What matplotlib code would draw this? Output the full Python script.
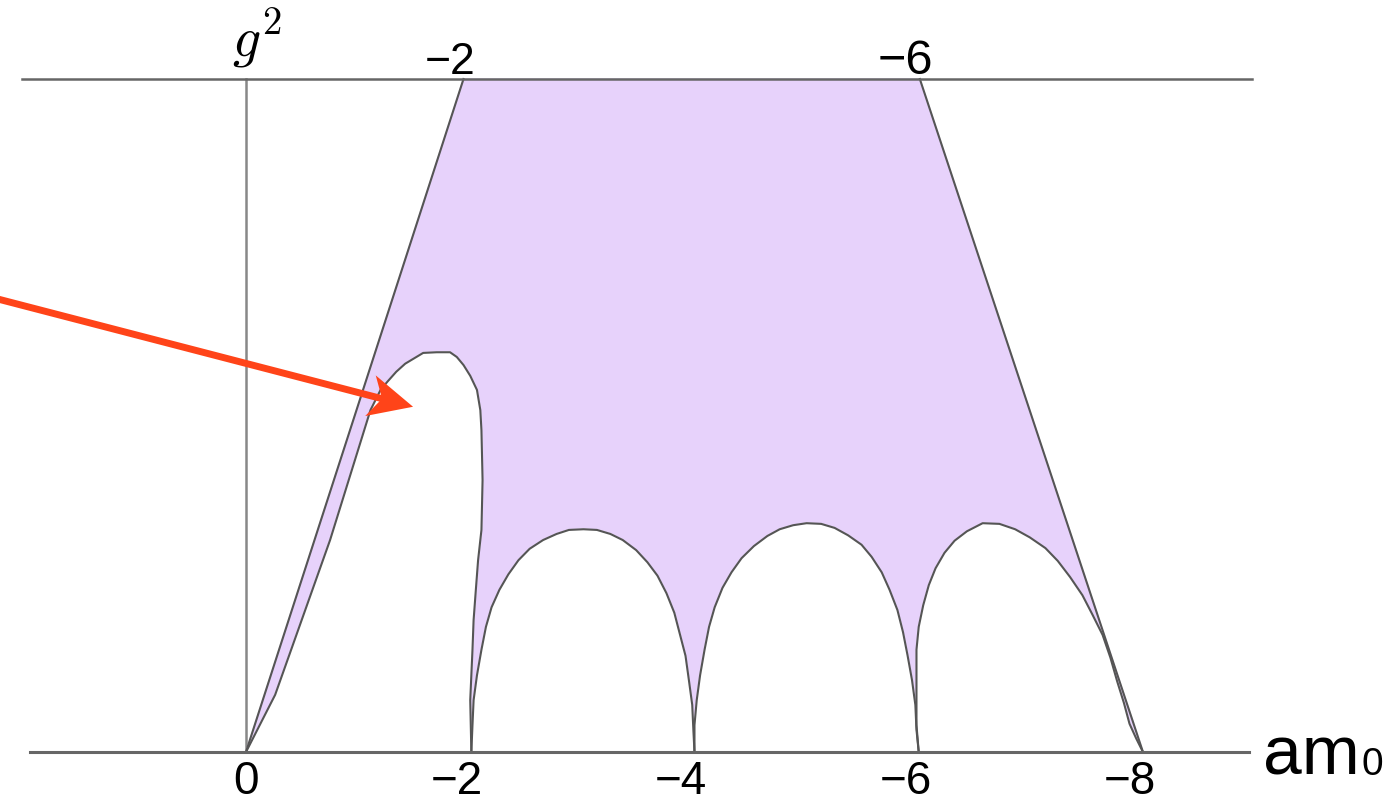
import numpy as np
import matplotlib.pyplot as plt
from matplotlib.patches import Polygon
from matplotlib.transforms import IdentityTransform

# Outer boundary of the shaded phase (am0, g^2 scaled so that the top line is 1)
outer_am0 = [0.0, -1.94, -6.01, -8.0]
outer_g2 = [0.0, 1.0, 1.0, 0.0]

# Unshaded pocket next to am0 = 0 ... -2
pocket_am0 = [0.0, -0.26, -0.75, -1.11, -1.20, -1.26, -1.34, -1.42, -1.50, -1.58,
              -1.70, -1.82, -1.88, -1.94, -2.00, -2.06, -2.09, -2.10, -2.11, -2.10,
              -2.07, -2.05, -2.03, -2.02, -2.00, -2.01]
pocket_g2 = [0.0, 0.085, 0.315, 0.508, 0.538, 0.550, 0.565, 0.577, 0.585, 0.593,
             0.594, 0.594, 0.587, 0.575, 0.559, 0.538, 0.508, 0.478, 0.404, 0.330,
             0.285, 0.241, 0.196, 0.152, 0.077, 0.0]

# Three arches between the doubler points
arch1_am0 = [-2.01, -2.02, -2.03, -2.06, -2.10, -2.14, -2.19, -2.26, -2.34, -2.43,
             -2.53, -2.65, -2.77, -2.88, -3.01, -3.13, -3.25, -3.36, -3.48, -3.58,
             -3.67, -3.75, -3.82, -3.87, -3.92, -3.95, -3.98, -3.99, -4.00]
arch1_g2 = [0.0, 0.040, 0.077, 0.114, 0.152, 0.186, 0.215, 0.241, 0.264, 0.285,
            0.302, 0.315, 0.324, 0.330, 0.331, 0.330, 0.324, 0.315, 0.300, 0.282,
            0.262, 0.236, 0.207, 0.175, 0.143, 0.107, 0.070, 0.033, 0.0]

arch2_am0 = [-4.00, -4.00, -4.02, -4.05, -4.09, -4.13, -4.18, -4.25, -4.33, -4.42,
             -4.53, -4.65, -4.76, -4.88, -5.00, -5.13, -5.25, -5.37, -5.49, -5.58,
             -5.67, -5.74, -5.81, -5.86, -5.90, -5.94, -5.97, -5.98, -6.00]
arch2_g2 = [0.0, 0.040, 0.077, 0.114, 0.152, 0.186, 0.215, 0.244, 0.267, 0.288,
            0.306, 0.321, 0.331, 0.337, 0.340, 0.339, 0.333, 0.322, 0.308, 0.290,
            0.267, 0.241, 0.211, 0.178, 0.144, 0.107, 0.070, 0.033, 0.0]

arch3_am0 = [-6.00, -5.98, -5.98, -5.98, -5.98, -6.00, -6.04, -6.09, -6.15, -6.23,
             -6.32, -6.43, -6.57, -6.72, -6.86, -6.99, -7.13, -7.24, -7.35, -7.46,
             -7.55, -7.64, -7.71, -7.77, -7.83, -7.88, -7.94, -8.00]
arch3_g2 = [0.0, 0.040, 0.077, 0.114, 0.152, 0.186, 0.218, 0.248, 0.273, 0.296,
            0.314, 0.328, 0.340, 0.339, 0.331, 0.319, 0.303, 0.284, 0.260, 0.233,
            0.204, 0.174, 0.140, 0.105, 0.073, 0.042, 0.020, 0.0]

bottom_ticks = [0, -2, -4, -6, -8]
top_tick_pos = [-1.94, -6.01]
top_tick_labels = ['\u22122', '\u22126']
top_tick_sizes = [32, 35]

# arrow pointing into the pocket
arrow_start = (2.28, 0.676)
arrow_tip = (-1.49, 0.513)

fill_color = '#E7D2FB'
edge_color = '#555555'
arrow_color = '#FF4419'
label_font = 'Liberation Sans'

plt.rcParams['mathtext.fontset'] = 'cm'

fig = plt.figure(figsize=(13.94, 8.07), dpi=100)
ax = fig.add_axes([0, 0, 1, 1])
ax.set_xlim(2.194, -10.239)
ax.set_ylim(-0.0817, 1.1174)
ax.axis('off')

# axes lines
ax.plot([2.0, -8.97], [1.0, 1.0], color='#666666', lw=1.8, zorder=4)
ax.plot([1.93, -8.95], [0.0, 0.0], color='#666666', lw=2.2, zorder=4)
ax.plot([0.0, 0.0], [0.0, 1.0], color='#888888', lw=1.8, zorder=1)

# shaded region, then cut out the pocket and arches
ax.fill(outer_am0, outer_g2, color=fill_color, zorder=2)
ax.plot(outer_am0[:2], outer_g2[:2], color=edge_color, lw=1.5, zorder=3)
ax.plot(outer_am0[2:], outer_g2[2:], color=edge_color, lw=1.5, zorder=3)

for xs, ys in [(pocket_am0, pocket_g2), (arch1_am0, arch1_g2),
               (arch2_am0, arch2_g2), (arch3_am0, arch3_g2)]:
    ax.fill(xs, ys, color='white', zorder=2.5)
    ax.plot(xs, ys, color=edge_color, lw=1.5, zorder=3, solid_joinstyle='round')

# tick labels on the bottom line
for t in bottom_ticks:
    txt = '0' if t == 0 else '\u2212%d' % abs(t)
    dx = 0 if t == 0 else -9.6
    ax.annotate(txt, xy=(t, -0.0624), xytext=(dx, 0), textcoords='offset points',
                ha='center', va='baseline', fontsize=33, family=label_font)

# labels on the top line
for pos, txt, size in zip(top_tick_pos, top_tick_labels, top_tick_sizes):
    ax.annotate(txt, xy=(pos, 1.008), xytext=(-0.292 * size, 0),
                textcoords='offset points', ha='center', va='baseline',
                fontsize=size, family=label_font)

ax.text(-0.10, 1.012, r'$g^2$', ha='center', va='bottom', fontsize=40)

ax.text(-9.07, -0.034, 'am', ha='left', va='baseline', fontsize=50, family=label_font)
ax.text(-9.95, -0.034, '0', ha='left', va='baseline', fontsize=28, family=label_font)

# arrow with a notched head, built in pixel space
p0 = ax.transData.transform(arrow_start)
p1 = ax.transData.transform(arrow_tip)
d = (p1 - p0) / np.hypot(*(p1 - p0))
n = np.array([-d[1], d[0]])
head_len, half_w, notch = 44, 21, 12
back = p1 - d * head_len
head = [p1, back + n * half_w, p1 - d * (head_len - notch), back - n * half_w]
shaft_end = p1 - d * (head_len - notch - 2)
ax.add_line(plt.Line2D([p0[0], shaft_end[0]], [p0[1], shaft_end[1]],
                       transform=IdentityTransform(), color=arrow_color,
                       lw=5, solid_capstyle='butt', zorder=6))
ax.add_patch(Polygon(head, closed=True, transform=IdentityTransform(),
                     facecolor=arrow_color, edgecolor='none', zorder=6))

fig.savefig('out.png', dpi=100)
